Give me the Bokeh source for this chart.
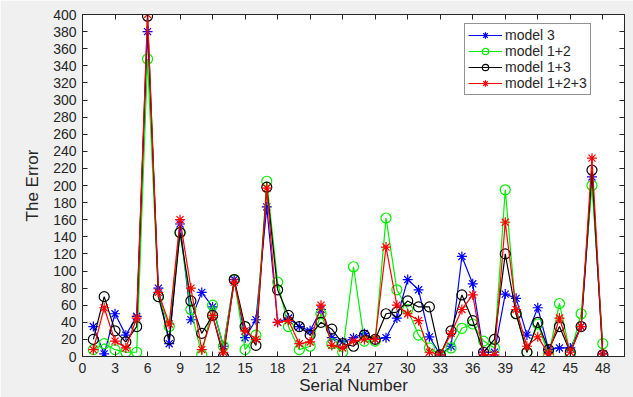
from bokeh.plotting import figure
from bokeh.models import FixedTicker, LinearAxis, Range1d, Legend, LegendItem
from bokeh.embed import file_html
from bokeh.resources import INLINE

serial = list(range(1, 49))
model3 = [35, 3, 50, 25, 47, 380, 80, 15, 155, 43, 75, 58, 12, 90, 22, 43, 175, 40, 45, 35,
          30, 55, 22, 17, 22, 27, 20, 22, 45, 90, 78, 23, 2, 12, 117, 85, 5, 5, 73, 68,
          25, 57, 8, 10, 10, 35, 210, 3]
model12 = [8, 15, 8, 5, 5, 348, 70, 35, 145, 55, 2, 60, 12, 90, 8, 25, 205, 87, 35, 8,
           12, 50, 15, 5, 105, 18, 18, 162, 78, 55, 25, 10, 2, 10, 33, 38, 18, 10, 195, 50,
           5, 38, 2, 62, 3, 50, 200, 15]
model13 = [20, 70, 30, 17, 35, 398, 70, 20, 145, 65, 27, 48, 0, 90, 35, 13, 198, 78, 48, 35,
           25, 40, 32, 15, 12, 25, 20, 50, 52, 65, 58, 58, 2, 30, 72, 42, 5, 20, 120, 50,
           5, 40, 8, 35, 5, 35, 218, 2]
model123 = [8, 57, 18, 10, 45, 400, 75, 38, 160, 80, 8, 48, 5, 87, 30, 20, 197, 40, 42, 15,
            17, 60, 13, 10, 18, 20, 20, 128, 60, 50, 42, 5, 2, 27, 55, 72, 2, 2, 157, 55,
            12, 23, 3, 45, 5, 35, 232, 3]

x_ticks = list(range(0, 49, 3))
y_ticks = list(range(0, 401, 20))

FONT = "Liberation Sans"
TXT = "#262626"

p = figure(width=633, height=397, output_backend="svg", toolbar_location=None,
           x_range=Range1d(0, 50), y_range=Range1d(0, 400),
           min_border_left=82, min_border_right=9, min_border_top=14, min_border_bottom=39,
           background_fill_color="white", border_fill_color="#f0f0f0")
p.outline_line_color = TXT
p.outline_line_width = 1
p.grid.visible = False

for ax in (p.xaxis[0], p.yaxis[0]):
    ax.major_tick_in = 5
    ax.major_tick_out = 0
    ax.minor_tick_in = 0
    ax.minor_tick_out = 0
    ax.axis_line_color = TXT
    ax.major_tick_line_color = TXT
    ax.major_label_text_font = FONT
    ax.major_label_text_font_size = "14px"
    ax.major_label_text_color = TXT
    ax.axis_label_text_font = FONT
    ax.axis_label_text_font_size = "17px"
    ax.axis_label_text_font_style = "normal"
    ax.axis_label_text_color = TXT

p.xaxis.ticker = FixedTicker(ticks=x_ticks)
p.yaxis.ticker = FixedTicker(ticks=y_ticks)
p.xaxis.axis_label = "Serial Number"
p.yaxis.axis_label = "The Error"
p.xaxis.major_label_standoff = 6
p.yaxis.major_label_standoff = 6
p.xaxis.axis_label_standoff = 0
p.yaxis.axis_label_standoff = 8

top = LinearAxis(ticker=FixedTicker(ticks=x_ticks), major_tick_in=5, major_tick_out=0,
                 minor_tick_in=0, minor_tick_out=0,
                 major_label_overrides={t: "" for t in x_ticks},
                 major_label_standoff=0, axis_line_color=TXT, major_tick_line_color=TXT)
right = LinearAxis(ticker=FixedTicker(ticks=y_ticks), major_tick_in=5, major_tick_out=0,
                   minor_tick_in=0, minor_tick_out=0,
                   major_label_overrides={t: "" for t in y_ticks},
                   major_label_standoff=0, axis_line_color=TXT, major_tick_line_color=TXT)
p.add_layout(top, "above")
p.add_layout(right, "right")

series = [
    ("model 3", model3, "#0000ff", "asterisk"),
    ("model 1+2", model12, "#00ee00", "circle"),
    ("model 1+3", model13, "#000000", "circle"),
    ("model 1+2+3", model123, "#ff0000", "asterisk"),
]
items = []
for name, ys, col, mk in series:
    ln = p.line(serial, ys, line_color=col, line_width=1.2)
    sc = p.scatter(serial, ys, marker=mk, size=10, line_color=col, fill_color=None, line_width=1.2)
    items.append(LegendItem(label=name, renderers=[ln, sc]))

leg = Legend(items=items, location=(382, 261))
leg.label_text_font = FONT
leg.label_text_font_size = "14px"
leg.label_text_color = TXT
leg.border_line_color = TXT
leg.border_line_width = 1
leg.background_fill_color = "white"
leg.background_fill_alpha = 1
leg.spacing = 0
leg.padding = 3
leg.margin = 0
leg.label_height = 16
leg.glyph_height = 16
leg.glyph_width = 34
leg.label_standoff = 3
p.add_layout(leg)

open("out.html", "w").write(file_html(p, INLINE))
